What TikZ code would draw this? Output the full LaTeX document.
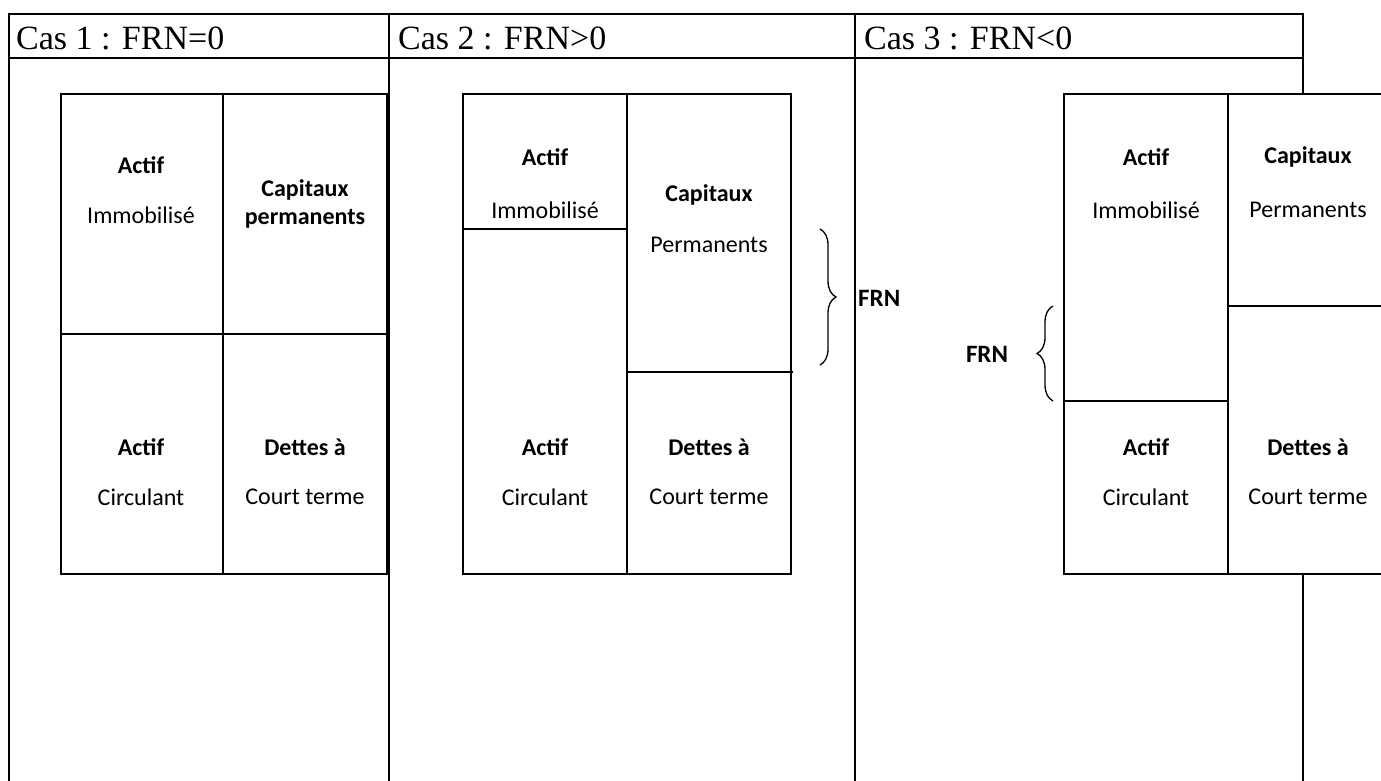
\documentclass[tikz,border=0pt]{standalone}
\usepackage{fontspec}
\setmainfont{Liberation Serif}
\newfontfamily\calfont{Carlito}
\usetikzlibrary{decorations.pathreplacing}
\begin{document}
\begin{tikzpicture}[x=1pt,y=-1pt,
  tbl/.style={line width=2pt},
  box/.style={line width=1.4pt, fill=white},
  divline/.style={line width=1.4pt},
  head/.style={font=\fontsize{34}{40}\selectfont, anchor=base west, inner sep=0pt},
  txt/.style={font=\calfont\fontsize{24}{28}\selectfont, align=center, inner sep=0pt},
  btxt/.style={font=\calfont\bfseries\fontsize{24}{28}\selectfont, align=center, inner sep=0pt},
  frn/.style={font=\calfont\bfseries\fontsize{25}{30}\selectfont, inner sep=0pt},
  bracestyle/.style={line width=1.3pt, decorate, decoration={brace, amplitude=16pt}}]
\useasboundingbox (0,0) rectangle (1381,781);
\clip (0,0) rectangle (1381,781);
% table
\draw[tbl] (9,781) -- (9,14) -- (1303,14) -- (1303,781);
\draw[tbl] (9,58) -- (1303,58);
\draw[tbl] (389,14) -- (389,781);
\draw[tbl] (855,14) -- (855,781);
\node[head] (h1) at (16,50) {Cas 1 : FRN=0};
\node[head] (h2) at (398,50) {Cas 2 : FRN>0};
\node[head] (h3) at (864,50) {Cas 3 : FRN<0};
% case 1
\draw[box] (61,94) rectangle (387,574);
\draw[divline] (223,94) -- (223,574);
\draw[divline] (61,334) -- (387,334);
\node[btxt] (a1) at (141,165) {Actif};
\node[txt] (i1) at (141,215) {Immobilisé};
\node[btxt] (c1) at (305,204) {Capitaux\\permanents};
\node[btxt] (ac1) at (141,447) {Actif};
\node[txt] (ci1) at (141,497) {Circulant};
\node[btxt] (d1) at (305,447) {Dettes à};
\node[txt] (ct1) at (305,497) {Court terme};
% case 2
\draw[box] (463,94) rectangle (791,574);
\draw[divline] (627,94) -- (627,574);
\draw[divline] (463,229) -- (627,229);
\draw[divline] (627,372) -- (793,372);
\node[btxt] (a2) at (545,157) {Actif};
\node[txt] (i2) at (545,210) {Immobilisé};
\node[btxt] (c2) at (709,195) {Capitaux};
\node[txt] (p2) at (709,245) {Permanents};
\node[btxt] (ac2) at (545,447) {Actif};
\node[txt] (ci2) at (545,497) {Circulant};
\node[btxt] (d2) at (709,447) {Dettes à};
\node[txt] (ct2) at (709,497) {Court terme};
\coordinate (b2t) at (820,229);
\coordinate (b2b) at (820,365);
\draw[bracestyle] (b2t) -- (b2b);
\node[frn, anchor=west] (f2) at (858,298) {FRN};
% case 3
\draw[box] (1064,94) rectangle (1392,574);
\draw[divline] (1228,94) -- (1228,574);
\draw[divline] (1064,401) -- (1228,401);
\draw[divline] (1228,306) -- (1392,306);
\node[btxt] (a3) at (1146,157) {Actif};
\node[txt] (i3) at (1146,210) {Immobilisé};
\node[btxt] (c3) at (1308,157) {Capitaux};
\node[txt] (p3) at (1308,210) {Permanents};
\node[btxt] (ac3) at (1146,447) {Actif};
\node[txt] (ci3) at (1146,497) {Circulant};
\node[btxt] (d3) at (1308,447) {Dettes à};
\node[txt] (ct3) at (1308,497) {Court terme};
\coordinate (b3t) at (1053,306);
\coordinate (b3b) at (1053,401);
\draw[bracestyle] (b3b) -- (b3t);
\node[frn] (f3) at (987,354) {FRN};
\end{tikzpicture}
\end{document}
